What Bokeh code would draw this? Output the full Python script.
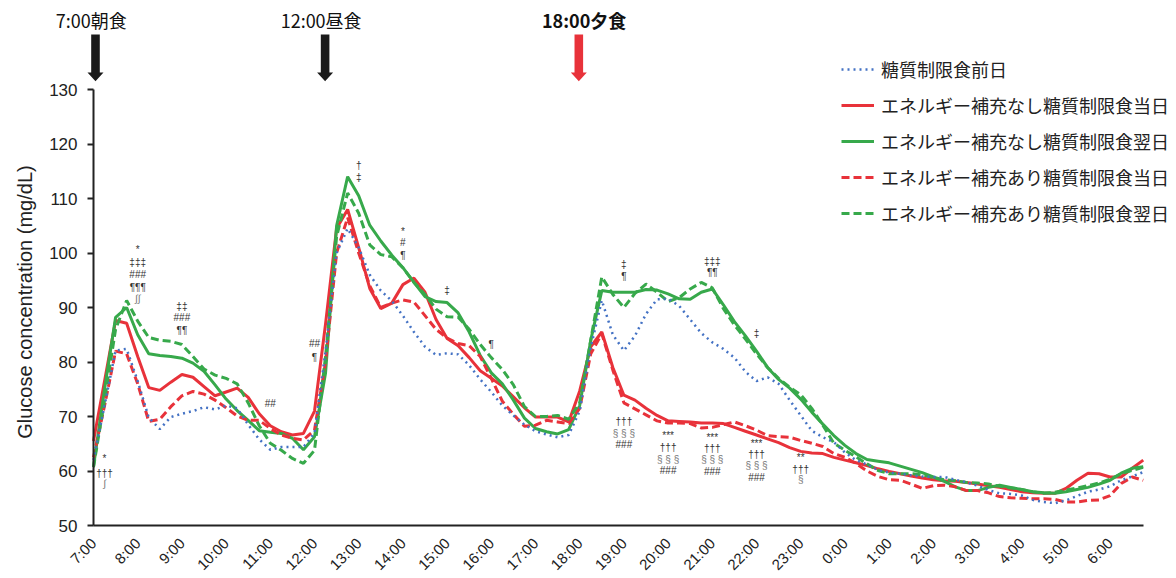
import math
from bokeh.plotting import figure
from bokeh.models import (Range1d, FixedTicker, Legend, LegendItem, Label,
                          PolyAnnotation, ColumnDataSource, LinearAxis)
from bokeh.embed import file_html
from bokeh.resources import INLINE
from bokeh.core.properties import value

# ---------------- data ----------------
tick_labels = ["7:00", "8:00", "9:00", "10:00", "11:00", "12:00", "13:00", "14:00",
               "15:00", "16:00", "17:00", "18:00", "19:00", "20:00", "21:00", "22:00",
               "23:00", "0:00", "1:00", "2:00", "3:00", "4:00", "5:00", "6:00"]

# sampling every 15 minutes from 7:00 (hours after 7:00)
sample_hours = [m / 60 for m in range(0, 24 * 60, 15)]

series_names = ["糖質制限食前日",
                "エネルギー補充なし糖質制限食当日",
                "エネルギー補充なし糖質制限食翌日",
                "エネルギー補充あり糖質制限食当日",
                "エネルギー補充あり糖質制限食翌日"]

pre_day = [62, 72, 82.1, 82.4, 76.5, 69.8, 67.7, 69.9, 70.5, 71, 71.7, 71.3,
           72, 71.5, 68.5, 65.8, 63.9, 64.4, 64.4, 64.4, 67, 82, 100, 104.5,
           101, 96, 93.1, 91.2, 88.5, 85.5, 82.8, 81.3, 81.6, 81.4, 79.4, 76.8,
           74.5, 72, 70.2, 68.5, 67.3, 66.7, 66.2, 66.6, 71, 82.7, 91.3, 85,
           82.1, 84.8, 88.8, 91.5, 91.6, 90.3, 87.8, 85.3, 83.6, 82.4, 80.8, 78.2,
           76.5, 77.2, 76, 73, 70.2, 67.4, 66.2, 65.3, 63.4, 62, 61.2, 60.2,
           59.7, 59.5, 59.2, 59, 58.9, 58.9, 58.4, 57.9, 57.3, 56.5, 55.9, 55.8,
           55.5, 54.7, 54.3, 54.1, 54.6, 55.4, 56.2, 56.6, 57.2, 58.3, 59, 59.8]

no_supp_day = [65.5, 76.5, 87.6, 87.1, 81, 75.3, 74.8, 76.3, 77.7, 77.2, 75.5, 73.8,
               74.5, 75.2, 73.5, 70.5, 68.3, 67.2, 66.6, 66.9, 71, 87, 104.5, 108,
               101, 93.5, 89.8, 90.8, 94.2, 95.4, 92.8, 87.8, 84.3, 83, 80.8, 78.4,
               77, 75.6, 73.6, 71.6, 69.9, 69.9, 69.9, 69, 74.7, 82.8, 85.5, 79,
               73.9, 73, 71.5, 70.2, 69.2, 69.1, 69, 68.8, 68.8, 68.7, 68, 67.3,
               66.6, 65.9, 65.2, 64.3, 63.6, 63.3, 63.2, 62.5, 62, 61.5, 61, 60.4,
               59.9, 59.5, 59.1, 58.7, 58.4, 58.2, 58.1, 57.9, 57.6, 57.3, 57, 56.6,
               56.2, 56, 55.9, 55.9, 56.8, 58.3, 59.6, 59.5, 58.9, 58.9, 60.5, 62]

no_supp_next = [60.8, 75, 88.2, 90, 85, 81.5, 81.2, 81, 80.7, 79.8, 78.3, 75.8,
                73.2, 71.1, 69.3, 67.4, 67.1, 66.9, 66, 63.9, 66.3, 78, 105, 114,
                110.5, 105.1, 102.2, 99.6, 97.3, 94.6, 92, 91.1, 90.9, 89, 85.5, 81.2,
                78, 76, 73, 69.7, 67.8, 67.2, 66.8, 67.6, 72, 84, 93.1, 92.8,
                92.8, 92.8, 93.3, 93.2, 92.5, 91.6, 91.5, 92.8, 93.4, 90.5, 87.4, 84.8,
                82, 79, 76.8, 75.2, 73.2, 70.8, 68.6, 66.5, 64.7, 63.2, 62.1, 61.8,
                61.5, 60.9, 60.3, 59.7, 58.9, 58.1, 57.1, 56.4, 56.4, 57, 57.4, 57,
                56.6, 56.2, 56, 55.9, 56.2, 56.6, 57, 57.6, 58.3, 59.6, 60.5, 60.8]

supp_day = [62.5, 72, 82, 81.5, 76, 69.1, 69.5, 71.8, 73.8, 74.6, 74.1, 73,
            71.6, 70.1, 69.3, 69.3, 67.8, 66.6, 66, 65.7, 67.5, 80, 100, 106.5,
            100, 94, 90, 90.8, 91.4, 91, 88.5, 86, 84.4, 83.4, 83, 81,
            77, 72.8, 70.4, 68.2, 68.4, 69.3, 69, 68.7, 71.5, 81.5, 85.2, 78.5,
            72.5, 71.4, 70.3, 69.2, 68.8, 68.8, 68.7, 67.9, 68, 68.5, 69, 68.3,
            67.5, 66.5, 66.3, 66.2, 65.6, 65.1, 64.5, 63.2, 62.5, 61.4, 60, 59,
            58.4, 58.3, 57.6, 56.8, 57.3, 57.4, 57.1, 56.4, 56.4, 56, 55.3, 55.1,
            55, 54.9, 54.9, 54.8, 54.3, 54.3, 54.6, 54.7, 55.5, 57.7, 58.9, 58.3]

supp_next = [60.7, 73, 86, 91.3, 87.5, 84.5, 84, 83.8, 83.2, 81, 78.7, 77.6,
             77, 76, 72.5, 68.3, 65.1, 63.8, 62.3, 61.4, 63.8, 81, 103, 111,
             107.3, 101.5, 99.7, 99.3, 97.3, 94.6, 92.4, 89.7, 88.3, 88.2, 86, 83.2,
             80.8, 78.6, 75.8, 71.8, 70, 70, 70.2, 69.5, 72.5, 84, 95.6, 92.4,
             90, 92.6, 94.3, 92.8, 91.1, 91.8, 93.4, 94.6, 93.6, 89.8, 86.8, 84.2,
             81.5, 79, 77, 75.4, 74, 71.5, 68.4, 65.1, 63.8, 62.6, 61.3, 60.1,
             59.5, 59.5, 59.5, 59.3, 58.8, 58.4, 58.2, 57.9, 57.8, 57.6, 57.2, 56.9,
             56.6, 56.2, 55.9, 56.1, 56.5, 56.9, 57.3, 57.8, 58.5, 59.5, 60.1, 60.7]

# significance marks: (hours after 7:00, glucose level, text)
marks_x = [0.25, 0.25, 0.25,
           1, 1, 1, 1, 1,
           2, 2, 2,
           4,
           5, 5,
           6, 6,
           7, 7, 7,
           8, 9,
           12, 12, 14, 14, 15,
           12, 12, 12,
           13, 13, 13, 13,
           14, 14, 14, 14,
           15, 15, 15, 15,
           16, 16, 16]
marks_y = [62.3, 59.6, 57.7,
           100.6, 98.3, 96.0, 93.7, 91.6,
           90.2, 88.2, 85.8,
           72.4,
           83.4, 80.9,
           116.1, 113.8,
           104.0, 102.0, 99.5,
           93.2, 83.3,
           97.9, 95.6, 98.5, 96.5, 85.3,
           69.1, 66.9, 64.9,
           66.5, 64.3, 62.2, 60.1,
           66.2, 64.1, 62.1, 60.0,
           65.1, 63.0, 61.0, 58.8,
           62.4, 60.2, 58.4]
marks_text = ["*", "†††", "∫",
              "*", "‡‡‡", "###", "¶¶¶", "∫∫",
              "‡‡", "###", "¶¶",
              "##",
              "##", "¶",
              "†", "‡",
              "*", "#", "¶",
              "‡", "¶",
              "‡", "¶", "‡‡‡", "¶¶", "‡",
              "†††", "§ § §", "###",
              "***", "†††", "§ § §", "###",
              "***", "†††", "§ § §", "###",
              "***", "†††", "§ § §", "###",
              "**", "†††", "§"]

meals = ["7:00朝食", "12:00昼食", "18:00夕食"]
meal_arrow_x = [0.045, 5.24, 10.98]
meal_label_x = [-0.05, 5.15, 11.1]

y_title = "Glucose concentration (mg/dL)"

# ---------------- figure ----------------
RED = "#e8323a"
GREEN = "#37a94b"
BLUE = "#4472c4"
INK = "#222222"

W, H = 1170, 574
PX_H = 44.2          # pixels per hour
PX_V = 5.45          # pixels per mg/dL
X0_PX, Y50_PX = 93, 525

x_range = Range1d(-X0_PX / PX_H, (W - X0_PX) / PX_H)
y_range = Range1d(50 - (H - Y50_PX) / PX_V, 50 + Y50_PX / PX_V)

p = figure(width=W, height=H, x_range=x_range, y_range=y_range,
           x_axis_location=None, y_axis_location=None,
           output_backend="svg", toolbar_location=None, min_border=0)
p.grid.visible = False
p.outline_line_color = None
p.background_fill_color = "white"
p.border_fill_color = "white"

# x axis (fixed at 50 mg/dL)
xa = LinearAxis(fixed_location=50, bounds=(0, 23.75))
xa.ticker = FixedTicker(ticks=list(range(len(tick_labels))))
xa.major_label_overrides = {i: lab for i, lab in enumerate(tick_labels)}
xa.major_label_orientation = math.pi / 4
xa.major_tick_line_color = None
xa.minor_tick_line_color = None
xa.axis_line_width = 2
xa.axis_line_color = INK
xa.major_label_text_font = "Liberation Sans"
xa.major_label_text_font_size = "15px"
xa.major_label_text_color = INK
xa.major_label_standoff = 9
p.add_layout(xa, "below")

# y axis (fixed at 7:00)
ya = LinearAxis(fixed_location=0, bounds=(50, 130))
ya.ticker = FixedTicker(ticks=list(range(50, 131, 10)))
ya.major_tick_out = 6
ya.major_tick_in = 0
ya.major_tick_line_width = 2
ya.major_tick_line_color = INK
ya.minor_tick_line_color = None
ya.axis_line_width = 2
ya.axis_line_color = INK
ya.major_label_text_font = "Liberation Sans"
ya.major_label_text_font_size = "17px"
ya.major_label_text_color = INK
ya.major_label_standoff = 10
p.add_layout(ya, "left")

# y-axis title, centred on the 50-130 span
p.add_layout(Label(x=-1.56, y=91, text=y_title, angle=math.pi / 2,
                   text_align="center", text_baseline="middle",
                   text_font="Liberation Sans", text_font_size="20px",
                   text_color=INK))

# lines
r_red = p.line(sample_hours, no_supp_day, line_color=RED, line_width=3)
r_green = p.line(sample_hours, no_supp_next, line_color=GREEN, line_width=3)
r_red_d = p.line(sample_hours, supp_day, line_color=RED, line_width=3, line_dash="8 4")
r_green_d = p.line(sample_hours, supp_next, line_color=GREEN, line_width=3, line_dash="8 4")
r_blue = p.line(sample_hours, pre_day, line_color=BLUE, line_width=2.5, line_dash="2 4")

leg_top = 56
leg_h = 5 * 26 + 4 * 10
legend = Legend(items=[LegendItem(label=series_names[0], renderers=[r_blue]),
                       LegendItem(label=series_names[1], renderers=[r_red]),
                       LegendItem(label=series_names[2], renderers=[r_green]),
                       LegendItem(label=series_names[3], renderers=[r_red_d]),
                       LegendItem(label=series_names[4], renderers=[r_green_d])],
                location=(841, H - leg_top - leg_h), orientation="vertical",
                glyph_width=33, glyph_height=26, label_height=26, label_standoff=7,
                spacing=10, padding=0, margin=0,
                border_line_alpha=0, background_fill_alpha=0,
                label_text_font="Noto Sans CJK JP", label_text_font_size="18px",
                label_text_color=INK)
p.add_layout(legend)

# significance marks
mark_colors = ["#777777" if (t.startswith("§") or t.startswith("∫")) else "#333333"
               for t in marks_text]
src = ColumnDataSource(dict(x=marks_x, y=marks_y, text=marks_text, color=mark_colors))
p.text(x="x", y="y", text="text", source=src, text_color="color",
       text_align="center", text_baseline="middle",
       text_font=value("Liberation Sans"), text_font_size="10px")

# meal arrows & labels (above the data area)
shaft_hw = 4.3 / PX_H
head_hw = 8.0 / PX_H
y_top, y_head, y_tip = 140.1, 133.1, 131.5
for i, (name, ax, lx) in enumerate(zip(meals, meal_arrow_x, meal_label_x)):
    col = RED if i == 2 else "#1a1a1a"
    xs = [ax - shaft_hw, ax + shaft_hw, ax + shaft_hw, ax + head_hw, ax,
          ax - head_hw, ax - shaft_hw]
    ys = [y_top, y_top, y_head, y_head, y_tip, y_head, y_head]
    p.add_layout(PolyAnnotation(xs=xs, ys=ys, xs_units="data", ys_units="data",
                                fill_color=col, fill_alpha=1.0, line_color=None))
    p.add_layout(Label(x=lx, y=142.7, text=name, text_align="center",
                       text_baseline="middle", text_font="Noto Sans CJK JP",
                       text_font_size="18px", text_color="#111111",
                       text_font_style="bold" if i == 2 else "normal"))

open("out.html", "w").write(file_html(p, INLINE))
